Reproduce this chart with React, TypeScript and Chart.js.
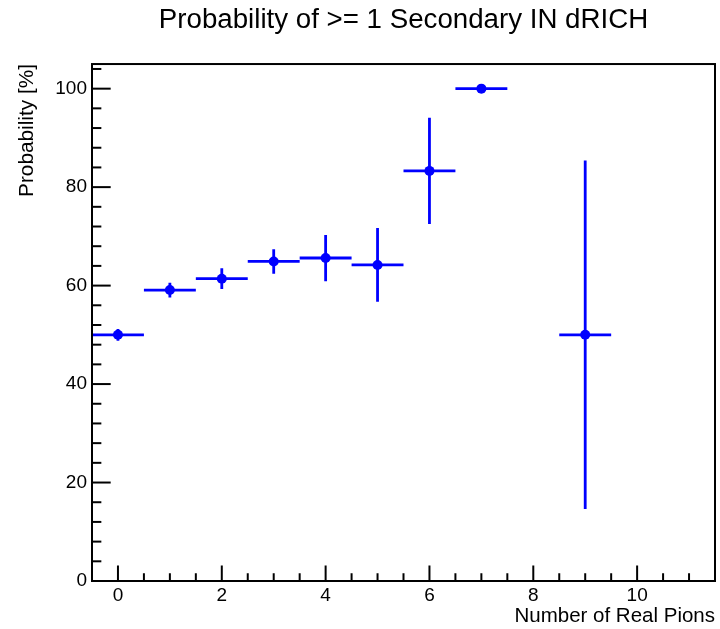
import React, { useEffect, useRef } from "react";
import { Chart, registerables } from "chart.js";

Chart.register(...registerables);

// ---- data ----
const xValues = [0, 1, 2, 3, 4, 5, 6, 7, 9];
const yValues = [50, 59.1, 61.4, 64.9, 65.6, 64.2, 83.3, 100, 50];
const xErrors = [0.5, 0.5, 0.5, 0.5, 0.5, 0.5, 0.5, 0.5, 0.5];
const yErrors = [1.2, 1.5, 2.1, 2.5, 4.7, 7.5, 10.8, 0, 35.4];
const xMajorTicks = [0, 2, 4, 6, 8, 10];
const yMajorTicks = [0, 20, 40, 60, 80, 100];

const FONT = "'Liberation Sans', Arial, Helvetica, sans-serif";
const BLUE = "#0000ff";

const isMajor = (list: number[], v: number) => list.some((m) => Math.abs(m - v) < 1e-9);

const errorBarPlugin = {
  id: "errorBars",
  beforeDatasetsDraw(chart: any) {
    const { ctx, chartArea, scales } = chart;
    const xs = scales.x;
    const ys = scales.y;
    ctx.save();
    ctx.beginPath();
    ctx.rect(chartArea.left, chartArea.top, chartArea.right - chartArea.left, chartArea.bottom - chartArea.top);
    ctx.clip();
    ctx.strokeStyle = BLUE;
    ctx.lineWidth = 2.8;
    ctx.lineCap = "butt";
    xValues.forEach((x, i) => {
      const y = yValues[i];
      const px = xs.getPixelForValue(x);
      const py = ys.getPixelForValue(y);
      ctx.beginPath();
      ctx.moveTo(xs.getPixelForValue(x - xErrors[i]), py);
      ctx.lineTo(xs.getPixelForValue(x + xErrors[i]), py);
      if (yErrors[i] > 0) {
        ctx.moveTo(px, ys.getPixelForValue(y - yErrors[i]));
        ctx.lineTo(px, ys.getPixelForValue(y + yErrors[i]));
      }
      ctx.stroke();
    });
    ctx.restore();
  },
};

const framePlugin = {
  id: "rootFrame",
  afterDraw(chart: any) {
    const { ctx, chartArea, scales } = chart;
    const { left, right, top, bottom } = chartArea;
    const w = right - left;
    const h = bottom - top;
    ctx.save();
    ctx.strokeStyle = "#000";
    ctx.lineWidth = 2;
    // ticks on y axis (inside)
    scales.y.ticks.forEach((t: any) => {
      const py = scales.y.getPixelForValue(t.value);
      if (py <= top + 1 || py >= bottom - 1) return;
      const len = isMajor(yMajorTicks, t.value) ? w * 0.03 : w * 0.015;
      ctx.beginPath();
      ctx.moveTo(left, py);
      ctx.lineTo(left + len, py);
      ctx.stroke();
    });
    // ticks on x axis (inside)
    scales.x.ticks.forEach((t: any) => {
      const px = scales.x.getPixelForValue(t.value);
      if (px <= left + 1 || px >= right - 1) return;
      const len = isMajor(xMajorTicks, t.value) ? h * 0.03 : h * 0.015;
      ctx.beginPath();
      ctx.moveTo(px, bottom);
      ctx.lineTo(px, bottom - len);
      ctx.stroke();
    });
    ctx.strokeRect(left, top, w, h);
    ctx.restore();
  },
};

export default function App() {
  const canvasRef = useRef<HTMLCanvasElement | null>(null);

  useEffect(() => {
    if (!canvasRef.current) return;
    const chart = new Chart(canvasRef.current, {
      type: "scatter",
      data: {
        datasets: [
          {
            label: "Probability",
            data: xValues.map((x, i) => ({ x, y: yValues[i] })),
            backgroundColor: BLUE,
            borderColor: BLUE,
            pointRadius: 5,
            pointBorderWidth: 0,
            showLine: false,
          },
        ],
      },
      options: {
        responsive: false,
        animation: false,
        events: [],
        layout: { padding: { left: 0, right: 3, top: 0, bottom: 0 } },
        plugins: {
          legend: { display: false },
          tooltip: { enabled: false },
          title: {
            display: true,
            fullSize: false,
            text: "Probability of >= 1 Secondary IN dRICH",
            color: "#000",
            font: { family: FONT, size: 27.7, weight: "normal", lineHeight: 1.2 },
            padding: { top: 3.4, bottom: 27.4 },
          },
        },
        scales: {
          x: {
            type: "linear",
            min: -0.5,
            max: 11.5,
            grid: { display: false, drawTicks: false },
            border: { display: false },
            ticks: {
              stepSize: 0.5,
              autoSkip: false,
              maxRotation: 0,
              includeBounds: false,
              padding: 3,
              color: "#000",
              font: { family: FONT, size: 19 },
              callback: (v: any) => (isMajor(xMajorTicks, Number(v)) ? String(v) : ""),
            },
            title: {
              display: true,
              text: "Number of Real Pions",
              align: "end",
              color: "#000",
              font: { family: FONT, size: 20.5, lineHeight: 1.2 },
              padding: { top: 0, bottom: 0 },
            },
            afterFit: (scale: any) => {
              scale.height = 48;
              scale.paddingLeft = 0;
              scale.paddingRight = 0;
            },
          },
          y: {
            type: "linear",
            min: 0,
            max: 105,
            grid: { display: false, drawTicks: false },
            border: { display: false },
            ticks: {
              stepSize: 4,
              autoSkip: false,
              includeBounds: false,
              padding: 5,
              color: "#000",
              font: { family: FONT, size: 19 },
              callback: (v: any) => (isMajor(yMajorTicks, Number(v)) ? String(v) : ""),
            },
            title: {
              display: true,
              text: "Probability [%]",
              align: "end",
              color: "#000",
              font: { family: FONT, size: 20.8, lineHeight: 1.2 },
              padding: { top: 15, bottom: 0 },
            },
            afterFit: (scale: any) => {
              scale.width = 92;
            },
          },
        },
      },
      plugins: [errorBarPlugin, framePlugin],
    });
    return () => chart.destroy();
  }, []);

  return (
    <div style={{ position: "fixed", left: 0, top: 0, width: 720, height: 629, background: "#fff" }}>
      <canvas ref={canvasRef} width={720} height={629} style={{ display: "block" }} />
    </div>
  );
}
